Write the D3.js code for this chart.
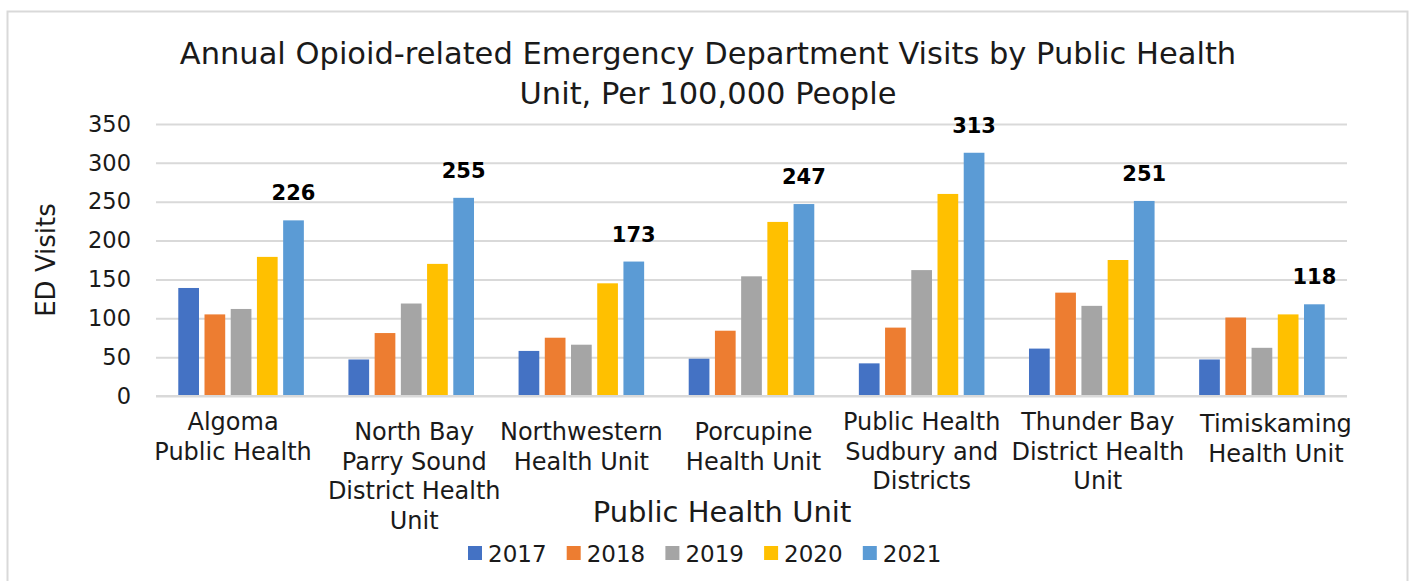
<!DOCTYPE html>
<html>
<head>
<meta charset="utf-8">
<script src="https://cdn.jsdelivr.net/npm/d3@7"></script>
<style>
  body { margin: 0; background: #fff; }
  svg { display: block; font-family: "DejaVu Sans", sans-serif; }
</style>
</head>
<body>
<svg width="1410" height="581"></svg>
<script>
const UNITS = [
    ["Algoma", "Public Health"],
    ["North Bay", "Parry Sound", "District Health", "Unit"],
    ["Northwestern", "Health Unit"],
    ["Porcupine", "Health Unit"],
    ["Public Health", "Sudbury and", "Districts"],
    ["Thunder Bay", "District Health", "Unit"],
    ["Timiskaming", "Health Unit"],
];
const YEARS = ["2017", "2018", "2019", "2020", "2021"];
const COLORS = ["#4472c4", "#ed7d31", "#a5a5a5", "#ffc000", "#5b9bd5"];

const V2017 = [139, 47, 58, 48, 42, 61, 47];
const V2018 = [105, 81, 75, 84, 88, 133, 101];
const V2019 = [112, 119, 66, 154, 162, 116, 62];
const V2020 = [179, 170, 145, 224, 260, 175, 105];
const V2021 = [226, 255, 173, 247, 313, 251, 118];
const Y_TICKS = [0, 50, 100, 150, 200, 250, 300, 350];

const SERIES = [V2017, V2018, V2019, V2020, V2021];

const svg = d3.select('svg');

// outer frame
svg.append('rect')
    .attr('x', 7.5).attr('y', 11.5)
    .attr('width', 1400).attr('height', 620)
    .attr('fill', '#fff')
    .attr('stroke', '#d9d9d9')
    .attr('stroke-width', 2);

const plotLeft = 156, plotRight = 1347, plotTop = 124, plotBottom = 396;

const xScale = d3.scaleBand()
    .domain(d3.range(UNITS.length))
    .range([plotLeft, plotRight])
    .padding(0);

const yearScale = d3.scaleBand()
    .domain(YEARS)
    .range([0, xScale.bandwidth()])
    .paddingInner(0.21)
    .paddingOuter(0.85);

const yScale = d3.scaleLinear()
    .domain([0, 350])
    .range([plotBottom, plotTop]);

// gridlines + y tick labels
const yAxis = svg.append('g')
    .attr('transform', `translate(${plotLeft},0)`)
    .call(d3.axisLeft(yScale)
        .tickValues(Y_TICKS)
        .tickSize(-(plotRight - plotLeft))
        .tickPadding(25));
yAxis.select('.domain').remove();
yAxis.selectAll('.tick line')
    .attr('stroke', '#d9d9d9')
    .attr('stroke-width', 2);
yAxis.selectAll('.tick text')
    .attr('fill', '#1a1a1a')
    .style('font-size', '22.5px')
    .style('font-family', '"DejaVu Sans", sans-serif');

// bars
const groups = svg.selectAll('.group')
    .data(UNITS)
    .enter()
    .append('g')
    .classed('group', true)
    .attr('transform', (d, i) => `translate(${xScale(i)},0)`);

groups.selectAll('rect')
    .data((d, i) => SERIES.map((s, k) => ({ year: YEARS[k], value: s[i], color: COLORS[k] })))
    .enter()
    .append('rect')
    .attr('x', d => yearScale(d.year))
    .attr('width', yearScale.bandwidth())
    .attr('y', d => yScale(d.value))
    .attr('height', d => plotBottom - yScale(d.value))
    .attr('fill', d => d.color);

// data labels on 2021
groups.append('text')
    .attr('x', yearScale('2021') + yearScale.bandwidth() / 2)
    .attr('y', (d, i) => yScale(V2021[i]) - 20)
    .attr('text-anchor', 'middle')
    .style('font-size', '21px')
    .style('font-weight', 'bold')
    .attr('fill', '#000')
    .text((d, i) => V2021[i]);

// x baseline
svg.append('line')
    .attr('x1', plotLeft).attr('x2', plotRight)
    .attr('y1', plotBottom).attr('y2', plotBottom)
    .attr('stroke', '#d9d9d9')
    .attr('stroke-width', 2);

// category labels (Excel nudges the wide ones a little)
const labelDrop = [0, 10, 10, 10, 0, 0, 2];
const labelShift = [-8, 3, 0, 2, 0, 6, 14];
groups.append('text')
    .attr('text-anchor', 'middle')
    .attr('fill', '#1a1a1a')
    .style('font-size', '24px')
    .each(function (d, i) {
        d3.select(this).selectAll('tspan')
            .data(d)
            .enter()
            .append('tspan')
            .attr('x', xScale.bandwidth() / 2 + labelShift[i])
            .attr('y', (line, j) => 430 + labelDrop[i] + j * 29.7)
            .text(line => line);
    });

// titles
svg.append('text')
    .attr('text-anchor', 'middle')
    .attr('fill', '#1a1a1a')
    .style('font-size', '30.5px')
    .selectAll('tspan')
    .data(["Annual Opioid-related Emergency Department Visits by Public Health", "Unit, Per 100,000 People"])
    .enter()
    .append('tspan')
    .attr('x', 708)
    .attr('y', (d, i) => 64 + i * 40)
    .text(d => d);

svg.append('text')
    .attr('transform', 'translate(55,260) rotate(-90)')
    .attr('text-anchor', 'middle')
    .attr('fill', '#1a1a1a')
    .style('font-size', '26px')
    .text('ED Visits');

svg.append('text')
    .attr('x', 722).attr('y', 522)
    .attr('text-anchor', 'middle')
    .attr('fill', '#1a1a1a')
    .style('font-size', '29px')
    .text('Public Health Unit');

// legend
const legend = svg.selectAll('.legend')
    .data(YEARS)
    .enter()
    .append('g')
    .classed('legend', true)
    .attr('transform', (d, i) => `translate(${468 + i * 98.7},546)`);
legend.append('rect')
    .attr('width', 14).attr('height', 14)
    .attr('fill', (d, i) => COLORS[i]);
legend.append('text')
    .attr('x', 20).attr('y', 15.5)
    .attr('fill', '#1a1a1a')
    .style('font-size', '23px')
    .text(d => d);
</script>
</body>
</html>
